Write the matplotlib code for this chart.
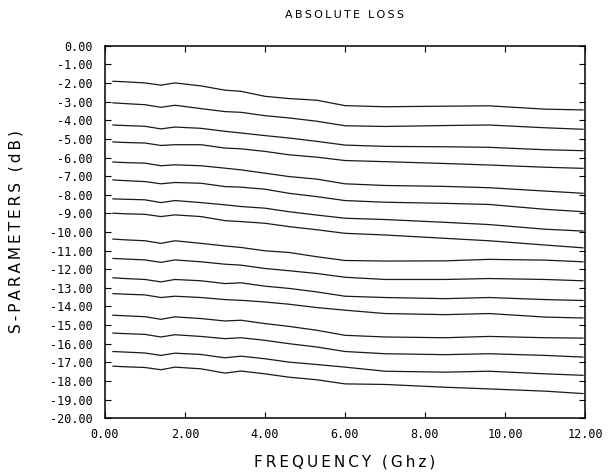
import matplotlib
matplotlib.use("Agg")
import matplotlib.pyplot as plt
from matplotlib.ticker import FormatStrFormatter, MultipleLocator

plt.rcParams['axes.unicode_minus'] = False

# frequency points (GHz) shared by all traces
freq = [0.2, 0.5, 1.0, 1.4, 1.75, 2.4, 3.0, 3.4, 4.0, 4.6, 5.3, 6.0, 7.0, 8.5, 9.6, 11.0, 11.95]

# one trace per line, top to bottom (dB)
s1 = [-1.90, -1.93, -1.99, -2.11, -1.99, -2.15, -2.38, -2.44, -2.71, -2.83, -2.92, -3.21, -3.27, -3.24, -3.22, -3.40, -3.44]
s2 = [-3.06, -3.10, -3.16, -3.30, -3.19, -3.37, -3.53, -3.57, -3.75, -3.87, -4.05, -4.29, -4.33, -4.28, -4.25, -4.40, -4.48]
s3 = [-4.25, -4.28, -4.32, -4.46, -4.36, -4.43, -4.59, -4.68, -4.82, -4.95, -5.13, -5.33, -5.40, -5.42, -5.45, -5.58, -5.63]
s4 = [-5.16, -5.19, -5.22, -5.35, -5.31, -5.31, -5.49, -5.53, -5.67, -5.85, -5.98, -6.16, -6.22, -6.32, -6.40, -6.52, -6.58]
s5 = [-6.24, -6.27, -6.30, -6.44, -6.39, -6.44, -6.57, -6.66, -6.84, -7.02, -7.16, -7.41, -7.50, -7.55, -7.62, -7.80, -7.92]
s6 = [-7.20, -7.24, -7.29, -7.41, -7.34, -7.38, -7.56, -7.59, -7.70, -7.92, -8.10, -8.31, -8.40, -8.46, -8.52, -8.78, -8.91]
s7 = [-8.22, -8.24, -8.27, -8.42, -8.31, -8.42, -8.54, -8.63, -8.72, -8.91, -9.09, -9.26, -9.33, -9.48, -9.60, -9.85, -9.95]
s8 = [-8.99, -9.02, -9.05, -9.17, -9.08, -9.17, -9.39, -9.44, -9.53, -9.71, -9.88, -10.07, -10.16, -10.34, -10.47, -10.70, -10.85]
s9 = [-10.38, -10.42, -10.47, -10.61, -10.47, -10.61, -10.75, -10.83, -11.01, -11.10, -11.33, -11.53, -11.56, -11.55, -11.47, -11.51, -11.60]
s10 = [-11.42, -11.45, -11.50, -11.63, -11.50, -11.60, -11.73, -11.78, -11.96, -12.08, -12.23, -12.43, -12.55, -12.55, -12.50, -12.55, -12.62]
s11 = [-12.46, -12.50, -12.55, -12.68, -12.55, -12.62, -12.77, -12.73, -12.91, -13.03, -13.22, -13.45, -13.52, -13.58, -13.52, -13.63, -13.68]
s12 = [-13.31, -13.34, -13.38, -13.52, -13.45, -13.52, -13.63, -13.67, -13.76, -13.88, -14.06, -14.20, -14.38, -14.44, -14.38, -14.57, -14.62]
s13 = [-14.47, -14.50, -14.55, -14.69, -14.56, -14.65, -14.78, -14.74, -14.92, -15.07, -15.28, -15.55, -15.64, -15.68, -15.61, -15.68, -15.70]
s14 = [-15.43, -15.46, -15.50, -15.64, -15.52, -15.61, -15.73, -15.68, -15.82, -16.00, -16.18, -16.42, -16.54, -16.59, -16.54, -16.63, -16.72]
s15 = [-16.42, -16.45, -16.50, -16.63, -16.51, -16.58, -16.76, -16.67, -16.81, -16.99, -17.12, -17.26, -17.48, -17.53, -17.48, -17.62, -17.70]
s16 = [-17.21, -17.24, -17.28, -17.40, -17.26, -17.35, -17.58, -17.47, -17.62, -17.80, -17.94, -18.16, -18.19, -18.34, -18.43, -18.55, -18.68]

traces = [s1, s2, s3, s4, s5, s6, s7, s8, s9, s10, s11, s12, s13, s14, s15, s16]


def spaced(txt):
    # plotter lettering is widely spaced
    return '\u2009'.join(txt)


fig = plt.figure(figsize=(6.1, 4.73), dpi=100)
ax = fig.add_axes([0.172, 0.116, 0.787, 0.787])

for s in traces:
    ax.plot(freq, s, color='#1a1a1a', linewidth=0.9)

ax.set_xlim(0, 12)
ax.set_ylim(-20, 0)
ax.xaxis.set_major_locator(MultipleLocator(2))
ax.yaxis.set_major_locator(MultipleLocator(1))
ax.xaxis.set_major_formatter(FormatStrFormatter('%.2f'))
ax.yaxis.set_major_formatter(FormatStrFormatter('%.2f'))
ax.tick_params(direction='in', top=True, right=True, length=4, width=0.8,
               labelsize=8.5)
ax.tick_params(axis='y', pad=9)
ax.tick_params(axis='x', pad=7)
for lab in ax.get_xticklabels() + ax.get_yticklabels():
    lab.set_family('DejaVu Sans Mono')
for sp in ax.spines.values():
    sp.set_linewidth(1.1)

ax.set_title(spaced('ABSOLUTE LOSS'), fontsize=8, pad=20)
ax.set_xlabel(spaced('FREQUENCY (Ghz)'), fontsize=11, labelpad=10)
ax.set_ylabel(spaced('S-PARAMETERS (dB)'), fontsize=11, labelpad=19)

fig.savefig('out.png', dpi=100)
